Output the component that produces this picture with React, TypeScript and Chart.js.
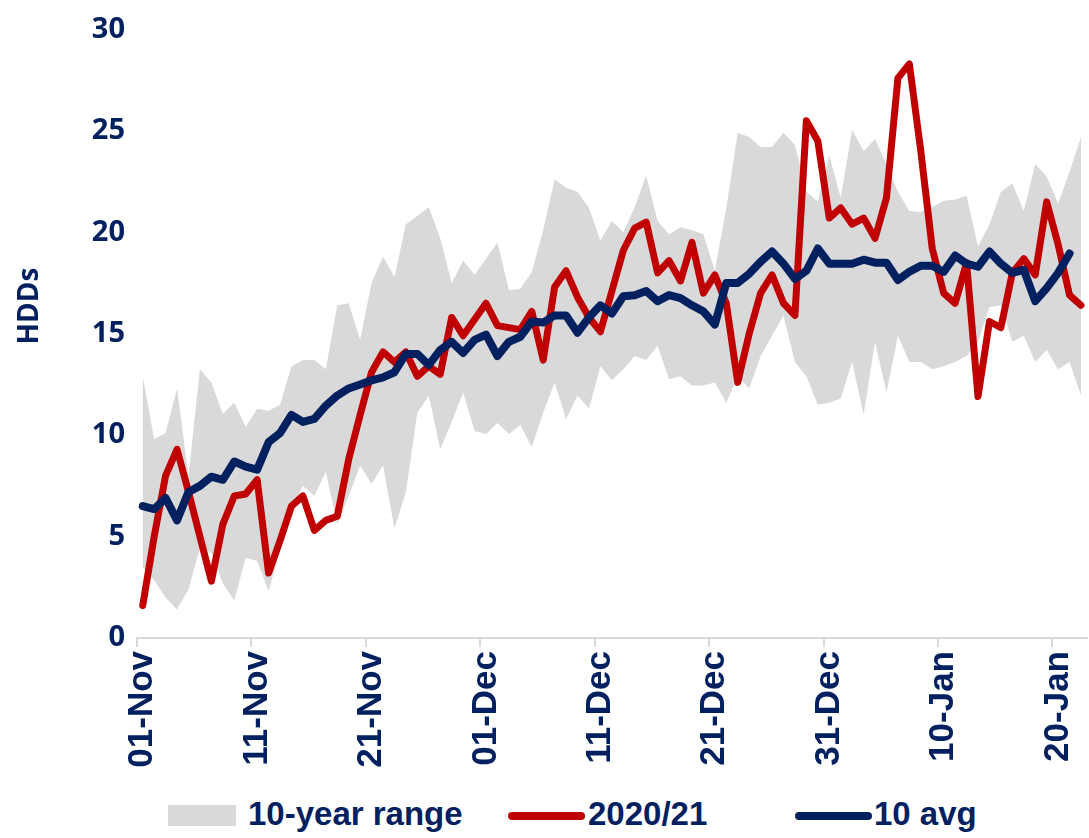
import React, { useEffect, useRef } from 'react';
import { Chart, registerables } from 'chart.js';
Chart.register(...registerables);

const MONTHS: [string, number][] = [['Nov', 30], ['Dec', 31], ['Jan', 22]];
const categories: string[] = MONTHS.flatMap(([m, n]) =>
  Array.from({ length: n }, (_, d) => `${String(d + 1).padStart(2, '0')}-${m}`)
);
const LABEL_EVERY = 10;

const rangeHigh = [
  12.9, 9.8, 10.1, 12.3, 8.0, 13.25, 12.6, 11.05, 11.6, 10.4,
  11.3, 11.2, 11.5, 13.4, 13.7, 13.7, 13.25, 16.4, 16.5, 14.7,
  17.5, 18.8, 17.8, 20.4, 20.8, 21.25, 19.7, 17.5, 18.6, 17.9,
  18.7, 19.5, 17.15, 17.2, 18.05, 20.1, 22.6, 22.2, 22.0, 21.2,
  19.6, 20.55, 20.0, 21.25, 22.8, 20.55, 19.9, 20.25, 20.1, 19.9,
  18.1, 21.2, 24.9, 24.7, 24.2, 24.2, 24.9, 24.3, 22.0, 21.5,
  23.8, 21.7, 25.05, 24.0, 24.6, 23.35, 22.0, 21.05, 21.0, 21.25,
  21.55, 21.6, 21.8, 19.3, 20.4, 22.0, 22.4, 21.05, 23.35, 22.75,
  21.4, 23.0, 24.7,
];
const rangeLow = [
  3.5, 2.85, 2.0, 1.4, 2.4, 4.45, 4.2, 2.7, 1.85, 3.95,
  3.8, 2.3, 4.3, 6.3, 7.5, 7.0, 8.2, 5.6, 7.0, 8.5,
  7.6, 8.5, 5.4, 7.2, 11.1, 11.95, 9.3, 10.65, 12.1, 10.2,
  10.05, 10.6, 10.05, 10.5, 9.4, 11.1, 12.6, 10.8, 11.95, 11.3,
  13.4, 12.7, 13.25, 13.9, 13.7, 14.4, 12.75, 12.9, 12.45, 12.45,
  12.6, 11.6, 12.9, 12.3, 13.9, 14.9, 15.9, 13.6, 12.9, 11.5,
  11.6, 11.8, 13.6, 11.0, 14.6, 12.1, 14.9, 13.6, 13.6, 13.25,
  13.4, 13.6, 13.9, 14.6, 16.3, 16.4, 14.6, 14.9, 13.6, 14.2,
  13.25, 13.6, 11.95,
];
const season2020 = [
  1.6, 5.0, 8.0, 9.3, 7.2, 5.0, 2.8, 5.6, 7.0, 7.1,
  7.8, 3.2, 4.8, 6.5, 7.0, 5.3, 5.8, 6.0, 8.8, 11.0,
  13.1, 14.1, 13.6, 14.1, 12.9, 13.4, 13.0, 15.8, 14.9, 15.7,
  16.5, 15.4, 15.3, 15.2, 16.1, 13.7, 17.3, 18.1, 16.8, 15.8,
  15.1, 17.1, 19.1, 20.2, 20.5, 18.0, 18.6, 17.6, 19.5, 17.0,
  17.9, 16.5, 12.6, 15.0, 17.0, 17.9, 16.5, 15.9, 25.5, 24.5,
  20.7, 21.2, 20.4, 20.7, 19.7, 21.7, 27.6, 28.3, 24.0, 19.2,
  17.0, 16.5, 18.5, 11.9, 15.6, 15.3, 18.0, 18.7, 17.9, 21.5,
  19.4, 16.9, 16.4,
];
const avg10 = [
  6.5, 6.35, 6.9, 5.8, 7.2, 7.5, 7.95, 7.8, 8.7, 8.45,
  8.3, 9.65, 10.1, 11.0, 10.65, 10.8, 11.45, 11.95, 12.3, 12.5,
  12.7, 12.85, 13.1, 14.0, 14.0, 13.45, 14.2, 14.6, 14.05, 14.7,
  14.95, 13.9, 14.6, 14.85, 15.6, 15.55, 15.9, 15.9, 15.05, 15.8,
  16.4, 16.0, 16.85, 16.9, 17.1, 16.6, 16.9, 16.75, 16.4, 16.1,
  15.45, 17.5, 17.5, 17.95, 18.55, 19.05, 18.45, 17.7, 18.1, 19.2,
  18.45, 18.45, 18.45, 18.65, 18.5, 18.5, 17.65, 18.05, 18.35, 18.35,
  18.05, 18.85, 18.45, 18.3, 19.05, 18.45, 18.0, 18.15, 16.6, 17.25,
  18.0, 18.95,
];

const NAVY = '#002060';
const RED = '#C00000';
const GREY = '#D9D9D9';
const Y_TITLE = 'HDDs';

const yTitlePlugin = {
  id: 'yTitle',
  afterDraw(chart: any) {
    const ctx = chart.ctx;
    ctx.save();
    ctx.translate(30, 306);
    ctx.rotate(-Math.PI / 2);
    ctx.fillStyle = NAVY;
    ctx.font = 'bold 28px "Open Sans"';
    ctx.textAlign = 'center';
    ctx.textBaseline = 'middle';
    ctx.fillText(Y_TITLE, 0, 0);
    ctx.restore();
  },
};

export default function App() {
  const ref = useRef<HTMLCanvasElement>(null);
  useEffect(() => {
    document.body.style.margin = '0';
    let chart: Chart | null = null;
    let cancelled = false;
    const make = () => {
      if (cancelled || !ref.current) return;
      chart = new Chart(ref.current, {
        type: 'line',
        data: {
          labels: categories,
          datasets: [
            { label: '10-year range', data: rangeHigh, borderWidth: 0, pointRadius: 0, backgroundColor: GREY, fill: '+1', order: 3 },
            { label: 'low', data: rangeLow, borderWidth: 0, pointRadius: 0, backgroundColor: GREY, fill: false, order: 4 },
            { label: '2020/21', data: season2020, borderColor: RED, borderWidth: 7, pointRadius: 0, fill: false, order: 1, borderJoinStyle: 'round', borderCapStyle: 'round' },
            { label: '10 avg', data: avg10, borderColor: NAVY, borderWidth: 8, pointRadius: 0, fill: false, order: 0, borderJoinStyle: 'round', borderCapStyle: 'round' },
          ],
        },
        plugins: [yTitlePlugin],
        options: {
          animation: false,
          responsive: false,
          layout: { padding: { top: 18, right: 0, bottom: 0, left: 0 } },
          plugins: { legend: { display: false }, tooltip: { enabled: false } },
          elements: { line: { tension: 0 } },
          scales: {
            x: {
              offset: true,
              grid: {
                offset: true,
                drawOnChartArea: false,
                tickLength: 9,
                lineWidth: 2,
                tickColor: (c: any) => (c.index % LABEL_EVERY === 0 ? GREY : 'rgba(0,0,0,0)'),
              },
              border: { display: true, color: GREY, width: 2 },
              ticks: {
                autoSkip: false,
                minRotation: 90,
                maxRotation: 90,
                padding: 4,
                color: NAVY,
                font: { family: 'Liberation Sans, Arial, sans-serif', weight: 'bold', size: 35 },
                callback: (_v: any, i: number) => (i % LABEL_EVERY === 0 ? categories[i] : ''),
              },
              afterFit: (s: any) => { s.height = 152; },
            },
            y: {
              min: 0,
              max: 30,
              grid: { display: false, drawTicks: false },
              border: { display: false },
              ticks: {
                stepSize: 5,
                padding: 12,
                color: NAVY,
                font: { family: 'Open Sans', weight: 'bold', size: 29 },
              },
              afterFit: (s: any) => { s.width = 137; },
            },
          },
        },
      });
    };
    const fonts: any = (document as any).fonts;
    if (fonts && fonts.load) {
      Promise.all([
        fonts.load('bold 29px "Open Sans"'),
        fonts.load('bold 28px "Open Sans"'),
        fonts.load('bold 35px "Liberation Sans"'),
      ]).then(make, make);
    } else {
      make();
    }
    return () => {
      cancelled = true;
      if (chart) chart.destroy();
    };
  }, []);

  const legendText: React.CSSProperties = {
    position: 'absolute',
    top: 795,
    fontFamily: '"Liberation Sans", Arial, sans-serif',
    fontWeight: 'bold',
    fontSize: 33,
    color: NAVY,
    lineHeight: '38px',
    whiteSpace: 'nowrap',
  };
  return (
    <div style={{ position: 'fixed', left: 0, top: 0, width: 1089, height: 838, background: '#fff', overflow: 'hidden' }}>
      <canvas ref={ref} width={1127} height={790} style={{ position: 'absolute', left: 0, top: 0 }} />
      <div style={{ position: 'absolute', left: 168, top: 805, width: 68, height: 21, background: GREY }} />
      <div style={{ ...legendText, left: 248 }}>10-year range</div>
      <div style={{ position: 'absolute', left: 508, top: 812, width: 77, height: 8, borderRadius: 4, background: RED }} />
      <div style={{ ...legendText, left: 588 }}>2020/21</div>
      <div style={{ position: 'absolute', left: 795, top: 812, width: 77, height: 8, borderRadius: 4, background: NAVY }} />
      <div style={{ ...legendText, left: 874 }}>10 avg</div>
    </div>
  );
}
